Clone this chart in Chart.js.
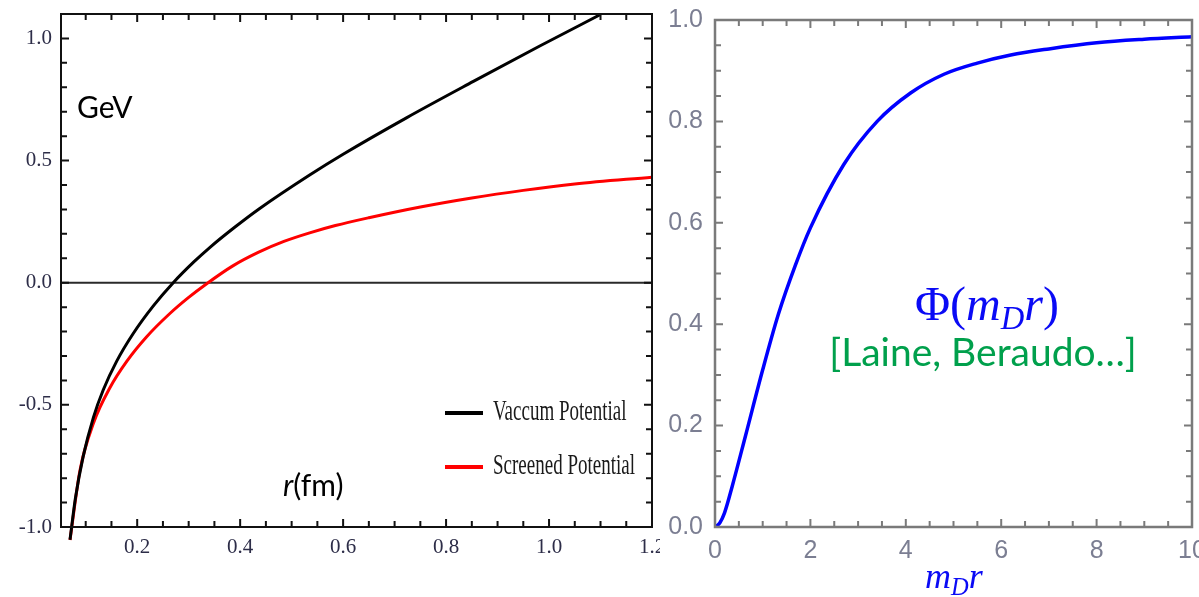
<!DOCTYPE html>
<html>
<head>
<meta charset="utf-8">
<title>Vacuum and screened potential</title>
<script src="https://cdn.jsdelivr.net/npm/chart.js@4.4.1/dist/chart.umd.min.js"></script>
<style>
  body { margin: 0; background: #fff; }
  #page { position: relative; width: 1199px; height: 597px; overflow: hidden; }
  canvas { position: absolute; top: 0; background: #fff; }
  #potChart { left: 0; }
  #phiChart { left: 660px; }
  .note { position: absolute; white-space: nowrap; line-height: 1; z-index: 2; }
  .sans { font-family: Lato, "Open Sans", sans-serif; color: #000; }
  .math { font-family: "Liberation Serif", "DejaVu Serif", serif; color: #0a0af5; }
  .math i { font-style: italic; }
  .math sub { font-size: 0.68em; vertical-align: -0.28em; line-height: 0; font-style: italic; }
</style>
</head>
<body>
<div id="page">
  <canvas id="potChart" width="660" height="597"></canvas>
  <canvas id="phiChart" width="539" height="597"></canvas>

  <div class="note sans" style="left:77px; top:91px; font-size:30px;">GeV</div>
  <div class="note sans" style="left:283px; top:469px; font-size:30px;"><i>r</i>(fm)</div>

  <div class="note math" style="left:787px; top:280px; width:400px; text-align:center; font-size:48px;">Φ(<i>m</i><sub>D</sub><i>r</i>)</div>
  <div class="note sans" style="left:783px; top:332px; width:400px; text-align:center; font-size:39px; color:#00a04c;">[Laine, Beraudo…]</div>
  <div class="note math" style="left:925px; top:558px; font-size:36px;"><i>m</i><sub>D</sub><i>r</i></div>
</div>

<script>
"use strict";

// Left panel: quark–antiquark potential (GeV) against r (fm)
const rVacuum = [0.0695, 0.08, 0.095, 0.115, 0.134, 0.16, 0.192, 0.231, 0.27, 0.31, 0.342, 0.39, 0.438, 0.535, 0.6, 0.723, 0.853, 0.982, 1.1];
const vVacuum = [-1.052, -0.882, -0.712, -0.551, -0.439, -0.322, -0.209, -0.096, 0.0, 0.085, 0.146, 0.228, 0.304, 0.441, 0.526, 0.675, 0.824, 0.969, 1.098];

const rScreened = [0.0695, 0.089, 0.115, 0.147, 0.18, 0.218, 0.264, 0.3, 0.335, 0.385, 0.435, 0.485, 0.535, 0.585, 0.65, 0.75, 0.85, 0.95, 1.05, 1.2];
const vScreened = [-1.053, -0.767, -0.575, -0.43, -0.321, -0.222, -0.125, -0.06, -0.004, 0.068, 0.124, 0.169, 0.204, 0.234, 0.266, 0.31, 0.347, 0.378, 0.404, 0.432];

const rTicks = [0.2, 0.4, 0.6, 0.8, 1.0, 1.2];
const vTicks = [-1.0, -0.5, 0.0, 0.5, 1.0];

// Right panel: screening function Phi(m_D r)
const mdr = [0, 0.1, 0.2, 0.36, 0.64, 1.0, 1.33, 1.68, 2.0, 2.7, 3.4, 4.1, 4.8, 5.5, 6.2, 7.0, 8.0, 9.0, 10.0];
const phi = [0, 0.008, 0.028, 0.08, 0.18, 0.31, 0.42, 0.515, 0.59, 0.715, 0.8, 0.856, 0.893, 0.915, 0.931, 0.943, 0.955, 0.962, 0.967];

const mdrTicks = [0, 2, 4, 6, 8, 10];
const phiTicks = [0.0, 0.2, 0.4, 0.6, 0.8, 1.0];

const toPoints = (xs, ys) => xs.map((x, i) => ({ x: x, y: ys[i] }));

// Mathematica-style frame: box with inward ticks on all four sides,
// plus an optional zero line and an in-plot legend.
const framePlugin = {
  id: "frame",
  beforeDatasetsDraw(chart, args, o) {
    if (!o.zeroLine) return;
    const { ctx, chartArea: a, scales: { y } } = chart;
    const py = y.getPixelForValue(0);
    ctx.save();
    ctx.strokeStyle = "#2a2a2a";
    ctx.lineWidth = 2;
    ctx.beginPath();
    ctx.moveTo(a.left, py);
    ctx.lineTo(a.right, py);
    ctx.stroke();
    ctx.restore();
  },
  afterDatasetsDraw(chart, args, o) {
    const { ctx, chartArea: a, scales: { x, y } } = chart;
    ctx.save();
    ctx.strokeStyle = o.color;
    ctx.lineWidth = o.width;
    ctx.strokeRect(a.left, a.top, a.right - a.left, a.bottom - a.top);

    ctx.lineWidth = o.tickWidth;
    ctx.beginPath();
    const isMajor = (v, step) => Math.abs(v / step - Math.round(v / step)) < 1e-4;
    for (let i = Math.ceil(x.min / o.xMinor - 1e-6); i * o.xMinor <= x.max + 1e-6; i++) {
      const v = i * o.xMinor;
      const px = x.getPixelForValue(v);
      const len = isMajor(v, o.xMajor) ? o.majorLen : o.minorLen;
      ctx.moveTo(px, a.bottom); ctx.lineTo(px, a.bottom - len);
      ctx.moveTo(px, a.top); ctx.lineTo(px, a.top + len);
    }
    for (let i = Math.ceil(y.min / o.yMinor - 1e-6); i * o.yMinor <= y.max + 1e-6; i++) {
      const v = i * o.yMinor;
      const py = y.getPixelForValue(v);
      const len = isMajor(v, o.yMajor) ? o.majorLen : o.minorLen;
      ctx.moveTo(a.left, py); ctx.lineTo(a.left + len, py);
      ctx.moveTo(a.right, py); ctx.lineTo(a.right - len, py);
    }
    ctx.stroke();

    if (o.legend) {
      const lx = a.right - 207;
      let ly = a.top + 399;
      ctx.font = '19px "Liberation Serif", serif';
      ctx.textBaseline = "middle";
      ctx.fillStyle = "#1a1a1a";
      chart.data.datasets.forEach((ds) => {
        ctx.strokeStyle = ds.borderColor;
        ctx.lineWidth = 4;
        ctx.beginPath();
        ctx.moveTo(lx, ly);
        ctx.lineTo(lx + 38, ly);
        ctx.stroke();
        ctx.save();
        ctx.translate(lx + 48, ly);
        ctx.scale(1, 1.5);
        ctx.fillText(ds.label, 0, 0);
        ctx.restore();
        ly += 54;
      });
    }
    ctx.restore();
  }
};

// pin the plot box so both panels line up
function fixAxis(size, key) {
  return (scale) => {
    scale[key] = size;
    scale.paddingLeft = 0;
    scale.paddingRight = 0;
    scale.paddingTop = 0;
    scale.paddingBottom = 0;
  };
}

const leftTickFont = { family: '"Liberation Serif", serif', size: 21 };
const rightTickFont = { family: '"Liberation Sans", Arial, sans-serif', size: 25 };

new Chart(document.getElementById("potChart"), {
  type: "line",
  data: {
    datasets: [
      {
        label: "Vaccum Potential",
        data: toPoints(rVacuum, vVacuum),
        borderColor: "#000000",
        borderWidth: 3,
        pointRadius: 0,
        cubicInterpolationMode: "monotone",
        clip: { left: 0, top: 0, right: 0, bottom: 20 }
      },
      {
        label: "Screened Potential",
        data: toPoints(rScreened, vScreened),
        borderColor: "#ff0000",
        borderWidth: 3,
        pointRadius: 0,
        cubicInterpolationMode: "monotone",
        clip: { left: 0, top: 0, right: 0, bottom: 20 }
      }
    ]
  },
  options: {
    responsive: false,
    animation: false,
    layout: { padding: { top: 14, right: 8, left: 0, bottom: 0 } },
    plugins: {
      legend: { display: false },
      tooltip: { enabled: false },
      frame: {
        color: "#111", width: 2, tickWidth: 2,
        xMinor: 0.05, xMajor: 0.2, yMinor: 0.1, yMajor: 0.5,
        majorLen: 8, minorLen: 6, zeroLine: true, legend: true
      }
    },
    scales: {
      x: {
        type: "linear",
        min: 0.052,
        max: 1.2,
        grid: { display: false, drawTicks: false },
        border: { display: false },
        afterBuildTicks: (s) => { s.ticks = rTicks.map((v) => ({ value: v })); },
        afterFit: fixAxis(70, "height"),
        ticks: {
          font: leftTickFont,
          color: "#2d2d48",
          padding: 8,
          maxRotation: 0,
          autoSkip: false,
          callback: (v) => v.toFixed(1)
        }
      },
      y: {
        type: "linear",
        min: -1.0,
        max: 1.1,
        grid: { display: false, drawTicks: false },
        border: { display: false },
        afterBuildTicks: (s) => { s.ticks = vTicks.map((v) => ({ value: v })); },
        afterFit: fixAxis(61, "width"),
        ticks: {
          font: leftTickFont,
          color: "#2d2d48",
          padding: 9,
          autoSkip: false,
          callback: (v) => v.toFixed(1)
        }
      }
    }
  },
  plugins: [framePlugin]
});

new Chart(document.getElementById("phiChart"), {
  type: "line",
  data: {
    datasets: [
      {
        label: "Phi",
        data: toPoints(mdr, phi),
        borderColor: "#0000ff",
        borderWidth: 3.5,
        pointRadius: 0,
        cubicInterpolationMode: "monotone"
      }
    ]
  },
  options: {
    responsive: false,
    animation: false,
    layout: { padding: { top: 20, right: 7, left: 0, bottom: 0 } },
    plugins: {
      legend: { display: false },
      tooltip: { enabled: false },
      frame: {
        color: "#7a7a7a", width: 2.5, tickWidth: 2,
        xMinor: 0.5, xMajor: 2, yMinor: 0.05, yMajor: 0.2,
        majorLen: 8, minorLen: 6, zeroLine: false, legend: false
      }
    },
    scales: {
      x: {
        type: "linear",
        min: 0,
        max: 10,
        grid: { display: false, drawTicks: false },
        border: { display: false },
        afterBuildTicks: (s) => { s.ticks = mdrTicks.map((v) => ({ value: v })); },
        afterFit: fixAxis(70, "height"),
        ticks: {
          font: rightTickFont,
          color: "#7b7e92",
          padding: 9,
          maxRotation: 0,
          autoSkip: false,
          callback: (v) => String(v)
        }
      },
      y: {
        type: "linear",
        min: 0,
        max: 1.0,
        grid: { display: false, drawTicks: false },
        border: { display: false },
        afterBuildTicks: (s) => { s.ticks = phiTicks.map((v) => ({ value: v })); },
        afterFit: fixAxis(55, "width"),
        ticks: {
          font: rightTickFont,
          color: "#7b7e92",
          padding: 12,
          autoSkip: false,
          callback: (v) => v.toFixed(1)
        }
      }
    }
  },
  plugins: [framePlugin]
});
</script>
</body>
</html>
